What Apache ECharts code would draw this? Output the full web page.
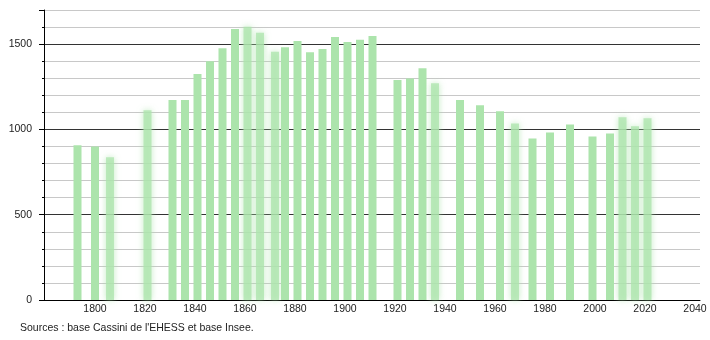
<!DOCTYPE html>
<html>
<head>
<meta charset="utf-8">
<script src="https://cdn.jsdelivr.net/npm/echarts@6/dist/echarts.min.js"></script>
<style>
html,body{margin:0;padding:0;background:#fff;}
#c{width:710px;height:340px;}
</style>
</head>
<body>
<div id="c"></div>
<script>
var years = [1793,1800,1806,1821,1831,1836,1841,1846,1851,1856,1861,1866,1872,1876,1881,1886,1891,1896,1901,1906,1911,1921,1926,1931,1936,1946,1954,1962,1968,1975,1982,1990,1999,2006,2011,2016,2021];
var population = [907,900,837,1112,1172,1172,1325,1400,1476,1588,1602,1567,1455,1482,1518,1453,1471,1541,1512,1525,1547,1290,1298,1359,1271,1172,1141,1106,1035,947,982,1029,959,976,1071,1018,1065];
var xTickLabels = [1800,1820,1840,1860,1880,1900,1920,1940,1960,1980,2000,2020,2040];
var yTickLabels = [0,500,1000,1500];
var sourceText = "Sources : base Cassini de l'EHESS et base Insee.";

var fuzzy = [1806,1821,1861,1866,1872,1936,1968,2011,2016,2021];
var green = '#ace4ac';
var data = years.map(function(y,i){
  var item = {value:[y, population[i]]};
  if (fuzzy.indexOf(y) >= 0) {
    item.itemStyle = {color:'rgba(172,228,172,0.75)', shadowBlur:6, shadowColor:'rgba(172,228,172,0.95)'};
  }
  return item;
});

var font = {fontFamily:'Liberation Sans, Arial, sans-serif', fontSize:10.5, color:'#222'};
var chart = echarts.init(document.getElementById('c'), null, {renderer:'canvas'});
chart.setOption({
  animation:false,
  backgroundColor:'#fff',
  grid:{left:44, right:10, top:10, bottom:40, containLabel:false},
  graphic:[{type:'text', left:20, top:323, style:{text:sourceText, font:'10.5px "Liberation Sans", Arial, sans-serif', fill:'#222'}}],
  xAxis:{
    type:'value', min:1779.6, max:2042,
    axisLine:{show:true, lineStyle:{color:'#000', width:1}},
    axisTick:{show:false},
    splitLine:{show:false},
    axisLabel:Object.assign({customValues:xTickLabels, margin:4, formatter:function(v){return String(v);}}, font)
  },
  yAxis:[{
    type:'value', min:0, max:1700, interval:100,
    axisLine:{show:true, lineStyle:{color:'#000', width:1}},
    axisTick:{show:true, length:2, lineStyle:{color:'#000'}},
    splitLine:{show:true, lineStyle:{color:['#333','#c8c8c8','#c8c8c8','#c8c8c8','#c8c8c8'], width:1}},
    axisLabel:Object.assign({margin:12, formatter:function(v){return yTickLabels.indexOf(v)>=0 ? String(v) : '';}}, font)
  },{
    type:'value', min:0, max:1700, interval:500, position:'left',
    axisLine:{show:false},
    axisTick:{show:true, length:5, lineStyle:{color:'#000'}},
    splitLine:{show:false},
    axisLabel:{show:false}
  }],
  series:[{
    type:'bar', data:data, barWidth:8, yAxisIndex:0,
    itemStyle:{color:green}
  }]
});
</script>
</body>
</html>
